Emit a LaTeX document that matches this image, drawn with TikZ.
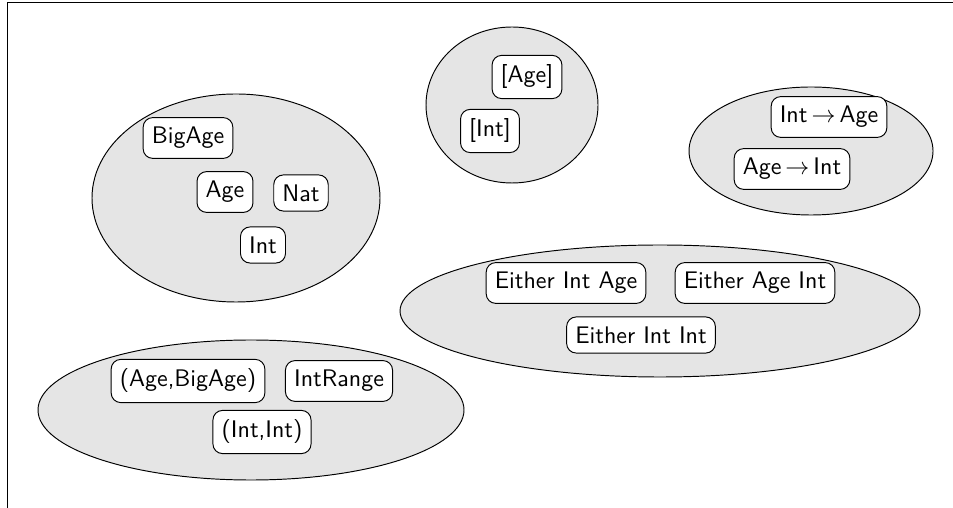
\documentclass[tikz,border=0pt]{standalone}
\usepackage{amsmath}
\usepackage{amssymb}
\usepackage{xcolor}
\usepackage{tikz}

\tikzset{
  typ/.style={draw, rounded corners=4pt, fill=white, font=\sffamily,
    inner xsep=3.6pt, inner ysep=4pt},
  blob/.style={draw, fill=gray!20}
}

\begin{document}
\begin{tikzpicture}[x=0.4167pt,y=-0.4167pt]
  \useasboundingbox (0,0) rectangle (953,508);
  \draw (7,508) -- (7,2) -- (953,2);
  % the groups
  \draw [blob] (236,198) ellipse [x radius=144,y radius=104];
  \draw [blob] (512,105) ellipse [x radius=86,y radius=78];
  \draw [blob] (811,151) ellipse [x radius=122,y radius=64];
  \draw [blob] (660,311) ellipse [x radius=260,y radius=66];
  \draw [blob] (251,410) ellipse [x radius=213,y radius=70];
  % the types
  \node [typ] (bigage) at (188,138) {BigAge};
  \node [typ] (age) at (225,192) {Age};
  \node [typ] (nat) at (301,193) {Nat};
  \node [typ] (int) at (263,245) {Int};
  \node [typ] (lage) at (527,77) {[Age]};
  \node [typ] (lint) at (490,131) {[Int]};
  \node [typ] (intage) at (829,117) {Int$\,\rightarrow\,$Age};
  \node [typ] (ageint) at (792,169) {Age$\,\rightarrow\,$Int};
  \node [typ] (eia) at (566,283) {Either Int Age};
  \node [typ] (eai) at (755,283) {Either Age Int};
  \node [typ] (eii) at (641,335) {Either Int Int};
  \node [typ] (pab) at (188,381) {(Age,BigAge)};
  \node [typ] (range) at (339,381) {IntRange};
  \node [typ] (pii) at (262,432) {(Int,Int)};
\end{tikzpicture}
\end{document}
